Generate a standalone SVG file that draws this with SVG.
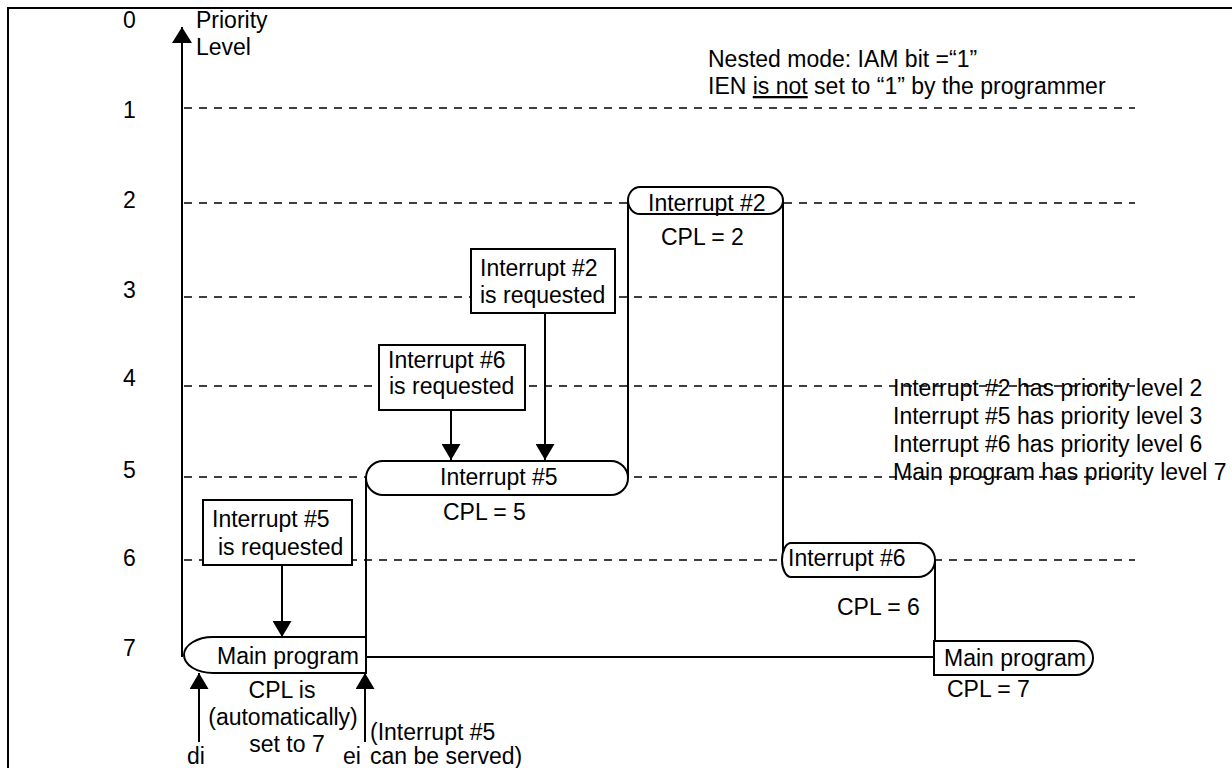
<svg xmlns="http://www.w3.org/2000/svg" width="1232" height="768" viewBox="0 0 1232 768">
<style>
text{font-family:"Liberation Sans",Arial,sans-serif;font-size:23px;fill:#000}
.dash{stroke:#000;stroke-width:1.6;stroke-dasharray:8 7;fill:none}
.ln{stroke:#000;stroke-width:2;fill:none}
.shape{stroke:#000;stroke-width:2;fill:#fff}
.c{text-anchor:middle}
</style>
<defs>
<marker id="arr" viewBox="0 0 16 19" refX="16" refY="9.5" markerWidth="16" markerHeight="19" markerUnits="userSpaceOnUse" orient="auto">
<path d="M0,0 L16,9.5 L0,19 Z" fill="#000"/>
</marker>
<marker id="arrAxis" viewBox="0 0 16 20" refX="16" refY="10" markerWidth="16" markerHeight="20" markerUnits="userSpaceOnUse" orient="auto">
<path d="M0,0 L16,10 L0,20 Z" fill="#000"/>
</marker>
</defs>
<rect x="8" y="8" width="1240" height="790" fill="#fff" stroke="#000" stroke-width="2"/>

<g id="levels">
<text x="123" y="28">0</text>
<text x="123" y="118">1</text>
<text x="123" y="208">2</text>
<text x="123" y="298">3</text>
<text x="123" y="386">4</text>
<text x="123" y="478">5</text>
<text x="123" y="566">6</text>
<text x="123" y="656">7</text>
<text x="196" y="28">Priority</text>
<text x="196" y="55">Level</text>
</g>

<g id="gridlines">
<line class="dash" x1="184" y1="108" x2="1135" y2="108"/>
<line class="dash" x1="184" y1="203" x2="1135" y2="203"/>
<line class="dash" x1="184" y1="297" x2="1135" y2="297"/>
<line class="dash" x1="184" y1="386" x2="1135" y2="386"/>
<line class="dash" x1="184" y1="477" x2="1135" y2="477"/>
<line class="dash" x1="184" y1="560" x2="1135" y2="560"/>
</g>

<g id="notes">
<text x="708" y="67">Nested mode: IAM bit =“1”</text>
<text x="708" y="94">IEN <tspan text-decoration="underline">is not</tspan> set to “1” by the programmer</text>
<text x="893" y="396">Interrupt #2 has priority level 2</text>
<text x="893" y="424">Interrupt #5 has priority level 3</text>
<text x="893" y="452">Interrupt #6 has priority level 6</text>
<text x="893" y="480">Main program has priority level 7</text>
</g>

<g id="connectors">
<line class="ln" x1="182" y1="657" x2="182" y2="27" marker-end="url(#arrAxis)"/>
<line class="ln" x1="366" y1="657" x2="934" y2="657"/>
<line class="ln" x1="366" y1="637" x2="366" y2="478"/>
<line class="ln" x1="628" y1="478" x2="628" y2="201"/>
<line class="ln" x1="783" y1="201" x2="783" y2="560"/>
<line class="ln" x1="935" y1="560" x2="935" y2="641"/>
<line class="ln" x1="282" y1="565" x2="282" y2="637" marker-end="url(#arr)"/>
<line class="ln" x1="451" y1="410" x2="451" y2="460" marker-end="url(#arr)"/>
<line class="ln" x1="545" y1="313" x2="545" y2="460" marker-end="url(#arr)"/>
<line class="ln" x1="199" y1="742" x2="199" y2="673" marker-end="url(#arr)"/>
<line class="ln" x1="365" y1="742" x2="365" y2="673" marker-end="url(#arr)"/>
</g>

<g id="main1">
<path class="shape" d="M366,637 H213 A29,18 0 0 0 213,673 H366 Z"/>
<text x="217" y="664">Main program</text>
<text class="c" x="282" y="698">CPL is</text>
<text class="c" x="283" y="725">(automatically)</text>
<text class="c" x="287" y="752">set to 7</text>
</g>

<g id="int5">
<path class="shape" d="M383,461 H611 A17,17 0 0 1 611,495 H383 A17,17 0 0 1 383,461 Z"/>
<text x="440" y="485">Interrupt #5</text>
<text x="443" y="520">CPL = 5</text>
</g>

<g id="int2">
<path class="shape" d="M640,187 H768 A15,13.5 0 0 1 768,214 H640 A12,13.5 0 0 1 640,187 Z"/>
<text x="648" y="211">Interrupt #2</text>
<text x="661" y="245">CPL = 2</text>
</g>

<g id="int6">
<path class="shape" d="M791,543 H918 A17,17 0 0 1 918,577 H791 A9,17 0 0 1 791,543 Z"/>
<text x="788" y="566">Interrupt #6</text>
<text x="837" y="615">CPL = 6</text>
</g>

<g id="main2">
<path class="shape" d="M934,641 H1076 A17,17 0 0 1 1076,675 H934 Z"/>
<text x="944" y="666">Main program</text>
<text x="947" y="697">CPL = 7</text>
</g>

<g id="req5">
<rect class="shape" x="203" y="500" width="149" height="65"/>
<text x="212" y="527">Interrupt #5</text>
<text x="218" y="555">is requested</text>
</g>

<g id="req6">
<rect class="shape" x="379" y="345" width="146" height="65"/>
<text x="388" y="368">Interrupt #6</text>
<text x="389" y="394">is requested</text>
</g>

<g id="req2">
<rect class="shape" x="471" y="249" width="144" height="64"/>
<text x="480" y="276">Interrupt #2</text>
<text x="480" y="303">is requested</text>
</g>

<g id="labels">
<text x="187" y="764">di</text>
<text x="343" y="764">ei</text>
<text x="370" y="740">(Interrupt #5</text>
<text x="370" y="764">can be served)</text>
</g>
</svg>
